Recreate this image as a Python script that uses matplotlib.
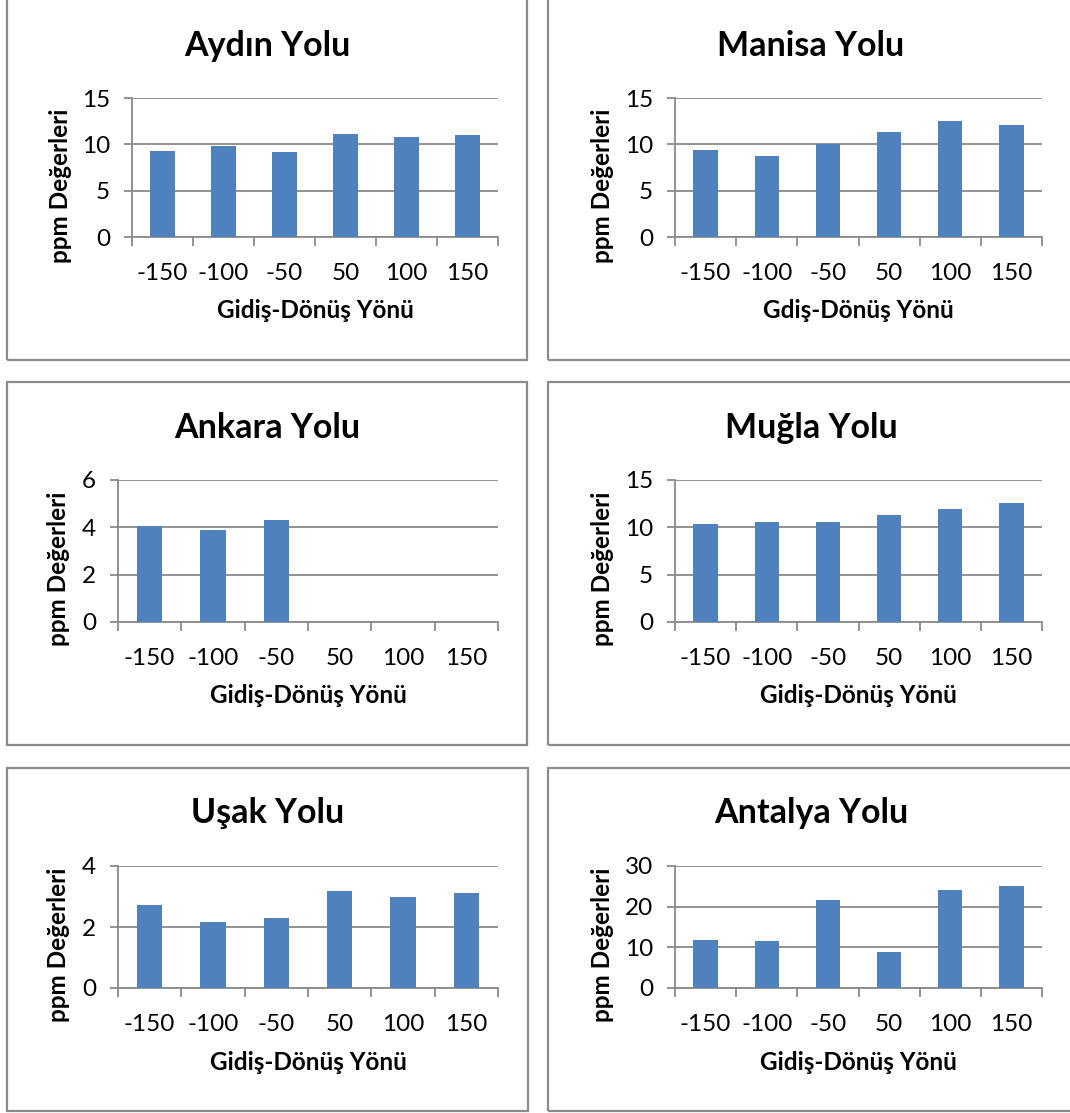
import matplotlib
matplotlib.use("Agg")
import matplotlib.pyplot as plt
from matplotlib.patches import Rectangle
from matplotlib.ticker import FixedLocator
import numpy as np

plt.rcParams['font.family'] = ['Lato', 'DejaVu Sans']

categories = ['-150', '-100', '-50', '50', '100', '150']

aydin = [9.28, 9.83, 9.22, 11.12, 10.84, 11.02]
manisa = [9.36, 8.75, 10.08, 11.38, 12.54, 12.11]
ankara = [4.07, 3.88, 4.29]
mugla = [10.38, 10.56, 10.56, 11.30, 11.98, 12.62]
usak = [2.71, 2.17, 2.31, 3.17, 2.99, 3.12]
antalya = [11.74, 11.65, 21.57, 8.93, 24.05, 25.12]

titles = ['Aydın Yolu', 'Manisa Yolu', 'Ankara Yolu', 'Muğla Yolu', 'Uşak Yolu', 'Antalya Yolu']
xlabels = ['Gidiş-Dönüş Yönü', 'Gdiş-Dönüş Yönü', 'Gidiş-Dönüş Yönü',
           'Gidiş-Dönüş Yönü', 'Gidiş-Dönüş Yönü', 'Gidiş-Dönüş Yönü']
ylabel = 'ppm Değerleri'
series = [aydin, manisa, ankara, mugla, usak, antalya]
yticks = [[0, 5, 10, 15], [0, 5, 10, 15], [0, 2, 4, 6],
          [0, 5, 10, 15], [0, 2, 4], [0, 10, 20, 30]]

W, H = 1070, 1113
DPI = 100
fig = plt.figure(figsize=(W / DPI, H / DPI), dpi=DPI)
fig.patch.set_facecolor('white')

# layout in pixels: (x0, x1, ytop, ybottom)
axes_px = [(132, 498, 98, 237), (675, 1042, 98, 237),
           (118, 498, 480, 622), (675, 1042, 480, 622),
           (118, 498, 866, 988), (675, 1042, 866, 988)]
boxes_px = [(7, 527, -10, 360), (548, 1090, -10, 360),
            (7, 527, 382, 745), (548, 1090, 382, 745),
            (7, 528, 768, 1111), (548, 1090, 768, 1111)]
title_base = [56, 56, 438, 438, 823, 823]
ylab_x = [61, 603, 58, 603, 58, 603]

BAR = '#4F81BD'
GRID = '#8a8a8a'
PX = 72 / DPI  # points per pixel

for i in range(6):
    bx0, bx1, by0, by1 = boxes_px[i]
    fig.patches.append(Rectangle((bx0 / W, 1 - by1 / H), (bx1 - bx0) / W, (by1 - by0) / H,
                                 transform=fig.transFigure, fill=False,
                                 edgecolor='#8c8c8c', linewidth=1.6, zorder=0))
    x0, x1, yt, yb = axes_px[i]
    ax = fig.add_axes([x0 / W, 1 - yb / H, (x1 - x0) / W, (yb - yt) / H])
    vals = series[i]
    ax.bar(np.arange(len(vals)), vals, width=0.4, color=BAR, zorder=3)
    ax.set_xlim(-0.5, len(categories) - 0.5)
    ax.set_ylim(yticks[i][0], yticks[i][-1])
    ax.set_xticks(np.arange(len(categories)))
    ax.set_xticklabels(categories)
    ax.xaxis.set_minor_locator(FixedLocator(np.arange(len(categories) + 1) - 0.5))
    ax.set_yticks(yticks[i])
    ax.yaxis.grid(True, color=GRID, linewidth=1.3, zorder=1)
    ax.set_axisbelow(True)
    for s in ['top', 'right']:
        ax.spines[s].set_visible(False)
    for s in ['left', 'bottom']:
        ax.spines[s].set_color(GRID)
        ax.spines[s].set_linewidth(1.3)
    ax.tick_params(axis='x', which='major', length=0, pad=26 * PX, labelsize=17.5)
    ax.tick_params(axis='x', which='minor', length=9 * PX, width=1.3, color=GRID, direction='out')
    ax.tick_params(axis='y', which='major', length=8 * PX, width=1.3, color=GRID,
                   direction='out', pad=14 * PX, labelsize=17.5)
    hpx = yb - yt
    wpx = x1 - x0
    ax.set_xlabel(xlabels[i], fontsize=17.5, fontweight='bold')
    ax.xaxis.set_label_coords(0.5, -74 / hpx)
    ax.xaxis.label.set_va('center')
    ax.set_ylabel(ylabel, fontsize=17.5, fontweight='bold')
    ax.yaxis.set_label_coords((ylab_x[i] - x0) / wpx, 0.5 - 18 / hpx)
    ax.yaxis.label.set_va('center')
    fig.text(((bx0 + bx1) / 2 if i % 2 == 0 else 811) / W, 1 - title_base[i] / H, titles[i],
             ha='center', va='baseline', fontsize=24.5, fontweight='bold')

fig.savefig('out.png', dpi=DPI, facecolor='white')
